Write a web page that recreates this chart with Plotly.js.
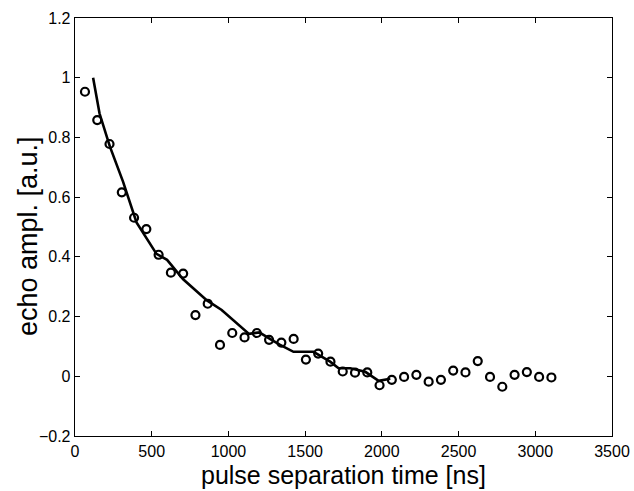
<!DOCTYPE html>
<html>
<head>
<meta charset="utf-8">
<script src="https://cdn.plot.ly/plotly-3.0.1.min.js"></script>
<style>html,body{margin:0;padding:0;background:#fff;}#chart{width:634px;height:491px;}</style>
</head>
<body>
<div id="chart"></div>
<script>
// measured echo amplitudes (open circles)
const pointTimes = [65,145,225,305,385,465,545,625,705,785,865,945,1025,1105,1185,1265,1345,1425,1505,1585,1665,1745,1825,1905,1985,2065,2145,2225,2305,2385,2465,2545,2625,2705,2785,2865,2945,3025,3105];
const pointAmps = [0.953,0.858,0.778,0.616,0.531,0.493,0.407,0.347,0.344,0.205,0.243,0.105,0.145,0.13,0.145,0.122,0.113,0.125,0.056,0.076,0.049,0.016,0.012,0.013,-0.03,-0.012,-0.002,0.005,-0.018,-0.012,0.019,0.013,0.051,-0.002,-0.035,0.005,0.014,-0.002,-0.004];
// simulated curve (solid line)
const curveTimes = [118,160,227,313,401,531,600,705,860,956,1134,1202,1281,1337,1424,1554,1663,1718,1794,1892,1979,2055];
const curveAmps = [1.0,0.88,0.77,0.652,0.515,0.41,0.39,0.325,0.254,0.222,0.142,0.147,0.122,0.105,0.082,0.082,0.049,0.027,0.027,0.015,-0.015,-0.008];
const xTicks = [0,500,1000,1500,2000,2500,3000,3500];
const yTicks = [-0.2,0,0.2,0.4,0.6,0.8,1,1.2];
const yTickText = ['\u22120.2','0','0.2','0.4','0.6','0.8','1','1.2'];
const xTitle = 'pulse separation time [ns]';
const yTitle = 'echo ampl. [a.u.]';

const font = 'Liberation Sans, Arial, Helvetica, sans-serif';
const data = [
  {x: curveTimes, y: curveAmps, mode: 'lines', type: 'scatter',
   line: {color: '#000', width: 2.6}, hoverinfo: 'skip'},
  {x: pointTimes, y: pointAmps, mode: 'markers', type: 'scatter',
   marker: {symbol: 'circle-open', size: 8, color: '#000', line: {width: 2.2, color: '#000'}}}
];
const layout = {
  width: 634, height: 491,
  margin: {l: 75, r: 22, t: 18, b: 55},
  paper_bgcolor: '#fff', plot_bgcolor: '#fff',
  showlegend: false,
  font: {family: font, color: '#000', size: 16},
  xaxis: {
    range: [0, 3500], tickvals: xTicks, ticktext: xTicks.map(String),
    ticks: 'inside', ticklen: 5, tickwidth: 1, tickcolor: '#000',
    showline: true, linecolor: '#000', linewidth: 1.3, mirror: 'ticks',
    showgrid: false, zeroline: false, automargin: false,
    tickfont: {size: 16, family: font}
  },
  yaxis: {
    range: [-0.2, 1.2], tickvals: yTicks, ticktext: yTickText,
    ticks: 'inside', ticklen: 5, tickwidth: 1, tickcolor: '#000',
    showline: true, linecolor: '#000', linewidth: 1.3, mirror: 'ticks',
    showgrid: false, zeroline: false, automargin: false,
    tickfont: {size: 16, family: font}
  },
  annotations: [{
    text: yTitle, textangle: -90, showarrow: false,
    xref: 'paper', yref: 'paper', x: 0, y: 0.5, xanchor: 'center', yanchor: 'middle',
    xshift: -47, yshift: -9,
    font: {size: 27, family: font, color: '#000'}
  }, {
    text: xTitle, showarrow: false,
    xref: 'paper', yref: 'paper', x: 0.5, y: 0, xanchor: 'center', yanchor: 'top',
    yshift: -23,
    font: {size: 25, family: font, color: '#000'}
  }]
};
Plotly.newPlot('chart', data, layout, {displayModeBar: false, staticPlot: true});
</script>
</body>
</html>
